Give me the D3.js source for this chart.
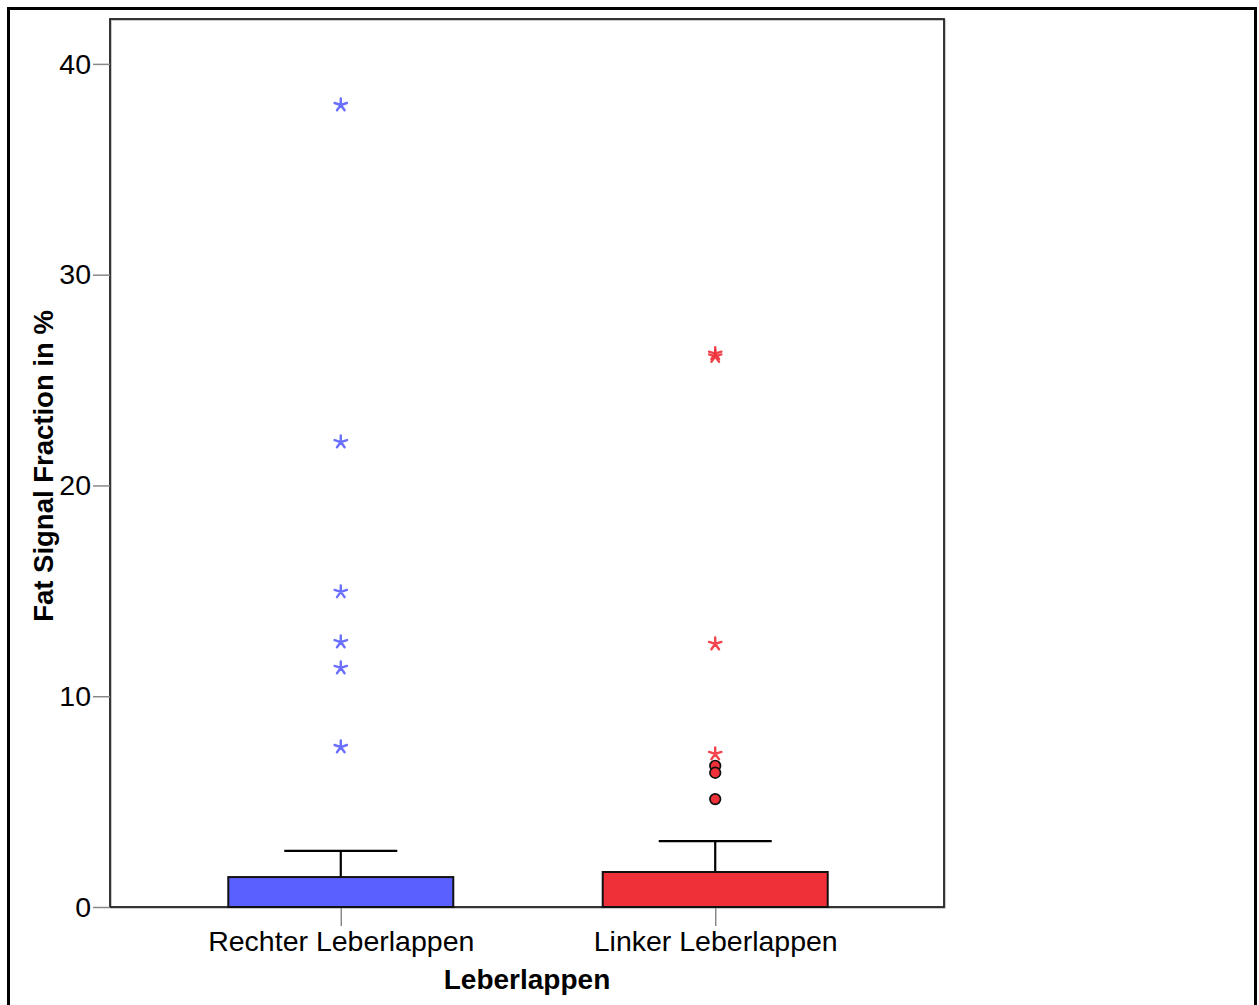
<!DOCTYPE html>
<html><head><meta charset="utf-8">
<script src="https://cdn.jsdelivr.net/npm/d3@7"></script>
<style>body{margin:0;background:#fff}svg{display:block;font-family:"Liberation Sans",Arial,sans-serif}</style>
</head><body><svg id="c" width="1259" height="1005"></svg>
<script>
const categories = ["Rechter Leberlappen", "Linker Leberlappen"];
const colors = ["#5a5fff", "#ef3039"];
const q1 = [0, 0];
const median = [0, 0];
const q3 = [1.42, 1.66];
const whiskerHigh = [2.66, 3.13];
const outlierCircles = [[], [6.70, 6.37, 5.12]];
const extremeStars = [[38.05, 22.06, 14.95, 12.57, 11.34, 7.59], [26.25, 26.12, 12.48, 7.26]];
const yTicks = [0, 10, 20, 30, 40];
const yTitle = "Fat Signal Fraction in %";
const xTitle = "Leberlappen";

const svg = d3.select("#c");
const L = 110, R = 944, T = 19, B = 907;
const y = d3.scaleLinear().domain([0, 42.13]).range([B, T]);
const x = d3.scalePoint().domain(categories).range([L + 2, R]).padding(0.611);
const fs = 28.5;

// outer frame
svg.append("rect").attr("x", 8.5).attr("y", 8.5).attr("width", 1247).attr("height", 1010)
  .attr("fill", "none").attr("stroke", "#000").attr("stroke-width", 3);

// plot frame
svg.append("rect").attr("x", L + 1).attr("y", T + 1).attr("width", R - L).attr("height", B - T)
  .attr("fill", "none").attr("stroke", "#bbb").attr("stroke-width", 1.5);
svg.append("rect").attr("x", L).attr("y", T).attr("width", R - L).attr("height", B - T)
  .attr("fill", "none").attr("stroke", "#222").attr("stroke-width", 1.8);

// y axis
const yAxis = svg.append("g").attr("transform", `translate(${L},0)`)
  .call(d3.axisLeft(y).tickValues(yTicks).tickSize(17).tickPadding(2).tickFormat(d3.format("d")));
yAxis.select(".domain").remove();
yAxis.selectAll(".tick line").attr("stroke", "#888").attr("stroke-width", 1.5);
yAxis.selectAll(".tick text").attr("font-size", fs).attr("fill", "#000").attr("font-family", "Liberation Sans, Arial, sans-serif");

// x axis
const xAxis = svg.append("g").attr("transform", `translate(0,${B})`)
  .call(d3.axisBottom(x).tickSize(19).tickPadding(5));
xAxis.select(".domain").remove();
xAxis.selectAll(".tick line").attr("stroke", "#888").attr("stroke-width", 1.5);
xAxis.selectAll(".tick text").attr("font-size", fs).attr("fill", "#000").attr("font-family", "Liberation Sans, Arial, sans-serif");

const boxW = 225, capW = 113;
categories.forEach((c, i) => {
  const cx = x(c);
  const g = svg.append("g");
  g.append("line").attr("x1", cx).attr("x2", cx).attr("y1", y(q3[i])).attr("y2", y(whiskerHigh[i]))
    .attr("stroke", "#000").attr("stroke-width", 2.2);
  g.append("line").attr("x1", cx - capW / 2).attr("x2", cx + capW / 2).attr("y1", y(whiskerHigh[i])).attr("y2", y(whiskerHigh[i]))
    .attr("stroke", "#000").attr("stroke-width", 2.2);
  g.append("rect").attr("x", cx - boxW / 2).attr("width", boxW)
    .attr("y", y(q3[i])).attr("height", y(q1[i]) - y(q3[i]))
    .attr("fill", colors[i]).attr("stroke", "#111").attr("stroke-width", 2);
  g.append("line").attr("x1", cx - boxW / 2).attr("x2", cx + boxW / 2).attr("y1", y(median[i])).attr("y2", y(median[i]))
    .attr("stroke", "#111").attr("stroke-width", 2);
  outlierCircles[i].forEach(v => {
    g.append("circle").attr("cx", cx).attr("cy", y(v)).attr("r", 5.3)
      .attr("fill", colors[i]).attr("stroke", "#111").attr("stroke-width", 1.7);
  });
  extremeStars[i].forEach(v => {
    const p = d3.path();
    for (let k = 0; k < 5; k++) {
      const a = -Math.PI / 2 + k * 2 * Math.PI / 5;
      p.moveTo(cx, y(v));
      p.lineTo(cx + 6.5 * Math.cos(a), y(v) + 6.5 * Math.sin(a));
    }
    g.append("path").attr("d", p.toString()).attr("stroke", colors[i]).attr("stroke-width", 2.4)
      .attr("stroke-linecap", "round").attr("fill", "none").attr("opacity", 0.9);
  });
});

// titles
svg.append("text").attr("x", 527).attr("y", 989).attr("text-anchor", "middle")
  .attr("font-size", 28).attr("font-weight", "bold").text(xTitle);
svg.append("text").attr("transform", `translate(53,466) rotate(-90)`).attr("text-anchor", "middle")
  .attr("font-size", 27.5).attr("font-weight", "bold").text(yTitle);
</script></body></html>
